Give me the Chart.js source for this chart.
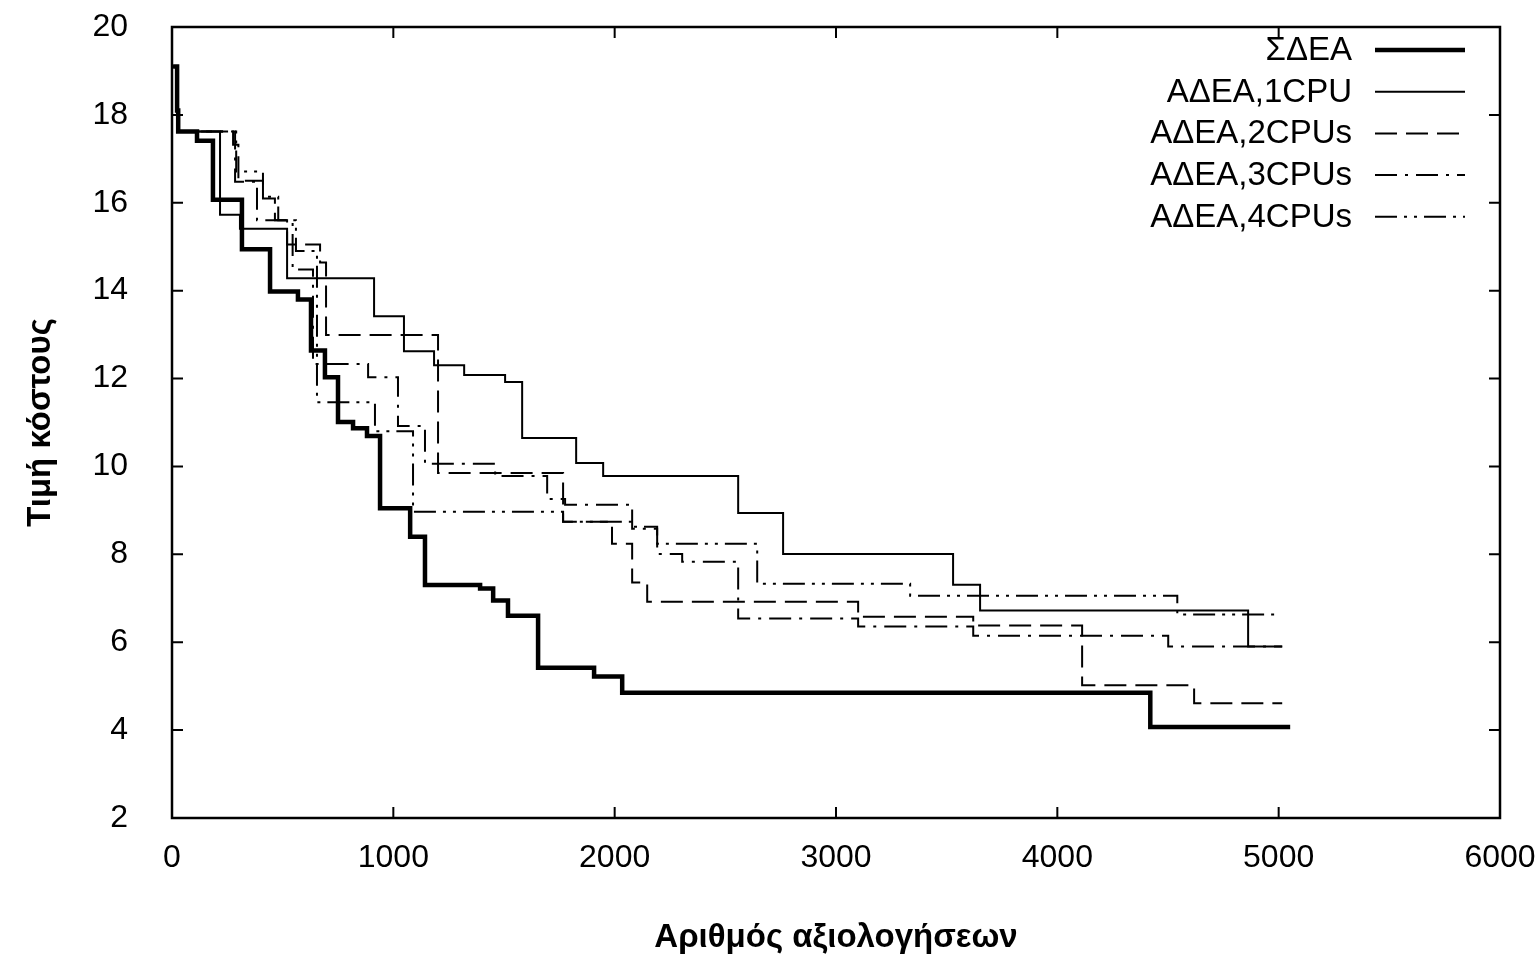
<!DOCTYPE html>
<html>
<head>
<meta charset="utf-8">
<script src="https://cdn.jsdelivr.net/npm/chart.js@4.4.1/dist/chart.umd.min.js"></script>
<style>
  html, body { margin: 0; padding: 0; background: #fff; }
  #wrap { width: 1536px; height: 954px; }
</style>
</head>
<body>
<div id="wrap"><canvas id="mycanvas" width="1536" height="954"></canvas></div>
<script>
// series labels
var seriesNames = ['ΣΔΕΑ', 'ΑΔΕΑ,1CPU', 'ΑΔΕΑ,2CPUs', 'ΑΔΕΑ,3CPUs', 'ΑΔΕΑ,4CPUs'];

// each point = evaluation count where the best cost changes, and the new cost
var sdeaX = [5, 23, 28, 113, 185, 316, 443, 569, 628, 691, 750, 818, 881, 940, 1076, 1143, 1392, 1451, 1518, 1654, 1907, 2034, 4420, 5052];
var sdeaY = [19.1, 18.1, 17.62, 17.41, 16.07, 14.94, 13.98, 13.80, 12.64, 12.03, 11.01, 10.87, 10.69, 9.05, 8.40, 7.30, 7.22, 6.95, 6.60, 5.42, 5.22, 4.85, 4.07, 4.07];

var cpu1X = [5, 23, 28, 217, 307, 520, 913, 1048, 1184, 1320, 1505, 1582, 1826, 1948, 2558, 2761, 3529, 3651, 4862, 5016];
var cpu1Y = [19.1, 18.1, 17.62, 15.73, 15.41, 14.28, 13.42, 12.62, 12.30, 12.08, 11.92, 10.65, 10.08, 9.78, 8.94, 8.01, 7.31, 6.72, 5.90, 5.90];

var cpu2X = [5, 23, 28, 276, 300, 411, 465, 520, 669, 696, 1202, 1767, 1988, 2079, 2147, 3100, 3620, 4112, 4618, 5016];
var cpu2Y = [19.1, 18.1, 17.62, 17.32, 16.5, 16.1, 15.6, 15.05, 14.64, 12.99, 9.85, 8.74, 8.24, 7.36, 6.92, 6.58, 6.38, 5.02, 4.61, 4.61];

var cpu3X = [5, 23, 28, 285, 384, 545, 637, 886, 1021, 1143, 1460, 1695, 1776, 2079, 2192, 2305, 2558, 3100, 3620, 4501, 5016];
var cpu3Y = [19.1, 18.1, 17.62, 16.48, 15.6, 14.48, 12.33, 12.03, 10.92, 10.06, 9.78, 9.26, 9.13, 8.58, 8.01, 7.83, 6.54, 6.36, 6.15, 5.90, 5.90];

var cpu4X = [5, 23, 28, 290, 411, 480, 560, 655, 917, 1089, 1767, 2079, 2192, 2644, 3335, 4542, 4984];
var cpu4Y = [19.1, 18.1, 17.62, 16.71, 16.14, 15.6, 14.9, 11.46, 10.8, 8.97, 8.74, 8.63, 8.24, 7.33, 7.06, 6.63, 6.63];

// axis ticks
var xTicks = [0, 1000, 2000, 3000, 4000, 5000, 6000];
var yTicks = [2, 4, 6, 8, 10, 12, 14, 16, 18, 20];

function pts(xs, ys) {
	return xs.map(function(x, i) { return {x: x, y: ys[i]}; });
}

var FONT = '"Liberation Sans", Arial, sans-serif';

var lineStyles = [
	{w: 4.5, dash: []},
	{w: 2, dash: []},
	{w: 2, dash: [22, 9]},
	{w: 2, dash: [22, 8, 3, 8]},
	{w: 2, dash: [22, 7, 3, 7, 3, 7]}
];
var allData = [pts(sdeaX, sdeaY), pts(cpu1X, cpu1Y), pts(cpu2X, cpu2Y), pts(cpu3X, cpu3Y), pts(cpu4X, cpu4Y)];

var datasets = seriesNames.map(function(name, i) {
	return {
		label: name,
		data: allData[i],
		borderColor: '#000',
		backgroundColor: '#000',
		borderWidth: lineStyles[i].w,
		borderDash: lineStyles[i].dash,
		borderCapStyle: 'butt',
		borderJoinStyle: 'miter',
		stepped: true,
		pointRadius: 0,
		fill: false,
		tension: 0
	};
});

// frame + inward ticks on all four sides, and the key in the top right
var framePlugin = {
	id: 'frame',
	afterDraw: function(chart) {
		var ctx = chart.ctx, a = chart.chartArea;
		var xs = chart.scales.x, ys = chart.scales.y;
		ctx.save();
		ctx.strokeStyle = '#000';
		ctx.lineWidth = 2.5;
		ctx.setLineDash([]);
		ctx.strokeRect(a.left, a.top, a.right - a.left, a.bottom - a.top);
		ctx.lineWidth = 2;
		var tl = 11;
		ctx.beginPath();
		xTicks.forEach(function(v) {
			var px = xs.getPixelForValue(v);
			ctx.moveTo(px, a.bottom); ctx.lineTo(px, a.bottom - tl);
			ctx.moveTo(px, a.top); ctx.lineTo(px, a.top + tl);
		});
		yTicks.forEach(function(v) {
			var py = ys.getPixelForValue(v);
			ctx.moveTo(a.left, py); ctx.lineTo(a.left + tl, py);
			ctx.moveTo(a.right, py); ctx.lineTo(a.right - tl, py);
		});
		ctx.stroke();

		// key
		ctx.font = '33px ' + FONT;
		ctx.fillStyle = '#000';
		ctx.textAlign = 'right';
		ctx.textBaseline = 'middle';
		chart.data.datasets.forEach(function(ds, i) {
			var y = 50 + i * 41.7;
			ctx.fillText(ds.label, 1352, y + 1);
			ctx.beginPath();
			ctx.lineWidth = ds.borderWidth;
			ctx.setLineDash(ds.borderDash);
			ctx.moveTo(1375, y);
			ctx.lineTo(1465, y);
			ctx.stroke();
		});
		ctx.restore();
	}
};

Chart.defaults.font.family = FONT;
Chart.defaults.color = '#000';

var ctx = document.getElementById('mycanvas');
var mycanvas = new Chart(ctx, {
	type: 'line',
	data: { datasets: datasets },
	options: {
		responsive: false,
		animation: false,
		events: [],
		layout: { padding: { left: 0, top: 27, right: 36, bottom: 0 } },
		plugins: { legend: { display: false }, tooltip: { enabled: false } },
		scales: {
			x: {
				type: 'linear',
				min: 0, max: 6000,
				grid: { display: false, drawTicks: false },
				border: { display: false },
				ticks: { stepSize: 1000, padding: 21, font: { size: 32 }, color: '#000', maxRotation: 0,
					callback: function(v) { return String(v); } },
				title: { display: true, text: 'Αριθμός αξιολογήσεων', font: { size: 33, weight: 'bold', lineHeight: 1 }, color: '#000', padding: { top: 0, bottom: 0 } },
				afterFit: function(scale) {
					scale.height = 136;
					scale.paddingLeft = 0;
					scale.paddingRight = 0;
				}
			},
			y: {
				min: 2, max: 20,
				grid: { display: false, drawTicks: false },
				border: { display: false },
				ticks: { stepSize: 2, padding: 44, font: { size: 32 }, color: '#000',
					callback: function(v) { return String(v); } },
				title: { display: true, text: 'Τιμή κόστους', font: { size: 33, weight: 'bold', lineHeight: 1 }, color: '#000', padding: { top: 24, bottom: 0 } },
				afterFit: function(scale) {
					scale.width = 172;
					scale.paddingTop = 0;
					scale.paddingBottom = 0;
				}
			}
		}
	},
	plugins: [framePlugin]
});
</script>
</body>
</html>
